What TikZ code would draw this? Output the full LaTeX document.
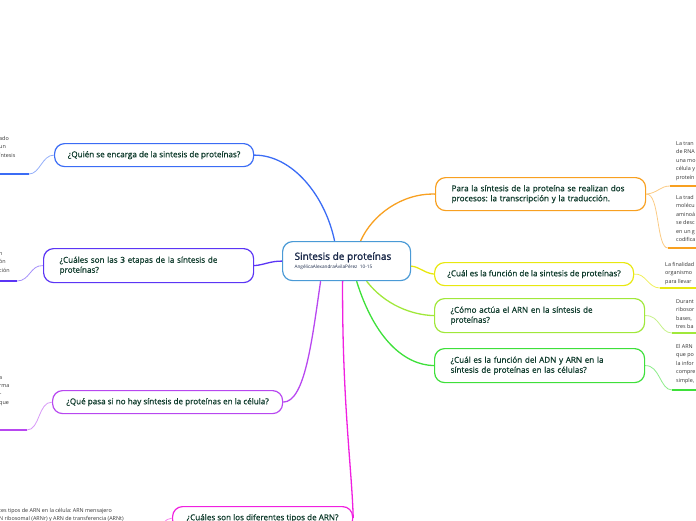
\documentclass[tikz,border=0pt]{standalone}
\usepackage{fontspec}
\setmainfont{Open Sans}
\newfontfamily\medio[FakeBold=0.7]{Open Sans}
\newfontfamily\grueso[FakeBold=1.6]{Open Sans}
\frenchspacing
\definecolor{azul}{HTML}{3B6CF5}
\definecolor{indigo}{HTML}{5B35F5}
\definecolor{lila}{HTML}{B847F0}
\definecolor{fucsia}{HTML}{F020E0}
\definecolor{naranja}{HTML}{F8A020}
\definecolor{amarillo}{HTML}{E8E810}
\definecolor{lima}{HTML}{A0E83A}
\definecolor{verde}{HTML}{3EE03A}
\definecolor{celeste}{HTML}{4A9AD6}
\definecolor{texto}{HTML}{0F3B2C}
\definecolor{marino}{HTML}{1B2A4A}
\definecolor{gris}{HTML}{333333}
\begin{document}
\begin{tikzpicture}[x=1pt,y=-1pt, every node/.style={font=\medio\fontsize{8.1}{10}\selectfont}]
  \tikzstyle{pr}=[draw,line width=1.2pt,rounded corners=10pt,fill=white,text=texto,anchor=north west,inner ysep=0pt]
  \tikzstyle{hoja}=[anchor=north west,inner sep=0pt,align=left,text=gris,font=\fontsize{5.4}{8.5}\selectfont]
  \tikzstyle{rama}=[line width=1.3pt]
  \tikzstyle{sub}=[line width=0.8pt]
  \tikzstyle{raya}=[line width=2pt]
  \clip (0,0) rectangle (696,520);
  \node[pr,draw=celeste,minimum width=128pt,minimum height=39pt,text width=104pt,inner xsep=12pt,align=left] (sint) at (282,241)
    {{\grueso\fontsize{10}{11}\selectfont\color{marino}Sintesis de proteínas}\\[-1pt]{\normalfont\fontsize{4.7}{6}\selectfont\color{marino}AngélicaAlexandraÁvilaPérez 10-15}};
  \node[pr,draw=azul,minimum width=199pt,minimum height=23pt,align=center] (quien) at (54,143) {¿Quién se encarga de la sintesis de proteínas?};
  \node[pr,draw=indigo,minimum height=34pt,text width=178pt,inner xsep=16pt,align=left] (etapas) at (43,248) {¿Cuáles son las 3 etapas de la síntesis de\\proteínas?};
  \node[pr,draw=lila,minimum width=230pt,minimum height=23pt,align=center] (pasa) at (52,390) {¿Qué pasa si no hay síntesis de proteínas en la célula?};
  \node[pr,draw=fucsia,minimum width=180pt,minimum height=23pt,align=center] (tipos) at (172,506) {¿Cuáles son los diferentes tipos de ARN?};
  \node[pr,draw=naranja,minimum height=33pt,text width=178pt,inner xsep=16pt,align=left] (procesos) at (435,177) {Para la síntesis de la proteína se realizan dos\\procesos: la transcripción y la traducción.};
  \node[pr,draw=amarillo,minimum width=199pt,minimum height=23pt,align=center] (funcion) at (434,262) {¿Cuál es la función de la sintesis de proteínas?};
  \node[pr,draw=lima,minimum height=34pt,text width=178pt,inner xsep=16pt,align=left] (arn) at (434,298) {¿Cómo actúa el ARN en la síntesis de\\proteínas?};
  \node[pr,draw=verde,minimum height=34pt,text width=178pt,inner xsep=16pt,align=left] (adnarn) at (434,348) {¿Cuál es la función del ADN y ARN en la\\síntesis de proteínas en las células?};

  \draw[rama,azul] ([xshift=-12pt]sint.north) .. controls (325,195) and (292,155) .. (quien.east);
  \draw[rama,indigo] (sint.west) .. controls (270,261) and (264,265) .. (etapas.east);
  \draw[rama,lila] ([xshift=-26pt]sint.south) .. controls (312,340) and (305,402) .. (pasa.east);
  \draw[rama,fucsia] ([xshift=-4pt]sint.south) .. controls (342,400) and (352,470) .. (tipos.east);
  \draw[rama,naranja] ([xshift=14pt]sint.north) .. controls (372,215) and (402,193) .. (procesos.west);
  \draw[rama,amarillo] ([yshift=-5pt]sint.east) .. controls (420,267) and (424,273) .. (funcion.west);
  \draw[rama,lima] ([xshift=20pt]sint.south) .. controls (385,305) and (412,315) .. (arn.west);
  \draw[rama,verde] ([xshift=10pt]sint.south) .. controls (375,340) and (405,365) .. (adnarn.west);

  \coordinate (quienA) at (29,174);  \coordinate (quienB) at (-2,174);
  \coordinate (etapasA) at (17,281); \coordinate (etapasB) at (-2,281);
  \coordinate (pasaA) at (27,430);   \coordinate (pasaB) at (-2,430);
  \coordinate (tiposA) at (155,527);
  \coordinate (procA) at (670,186);  \coordinate (procB) at (698,186);
  \coordinate (procC) at (668,248);  \coordinate (procD) at (698,248);
  \coordinate (funA) at (660,288);   \coordinate (funB) at (698,288);
  \coordinate (arnA) at (672,333);   \coordinate (arnB) at (698,333);
  \coordinate (adnA) at (672,390);   \coordinate (adnB) at (698,390);

  \draw[sub,azul!55] (quien.west) .. controls (42,155) and (40,174) .. (quienA);
  \draw[raya,azul] (quienA) -- (quienB);
  \draw[sub,indigo!55] (etapas.west) .. controls (30,265) and (30,281) .. (etapasA);
  \draw[raya,indigo] (etapasA) -- (etapasB);
  \draw[sub,lila!55] (pasa.west) .. controls (38,402) and (40,430) .. (pasaA);
  \draw[raya,lila] (pasaA) -- (pasaB);
  \draw[sub,fucsia!55] (tipos.west) .. controls (165,518) and (162,527) .. (tiposA);
  \draw[sub,naranja!55] (procesos.east) .. controls (658,193) and (660,186) .. (procA);
  \draw[raya,naranja] (procA) -- (procB);
  \draw[sub,naranja!55] (procesos.east) .. controls (660,193) and (656,248) .. (procC);
  \draw[raya,naranja] (procC) -- (procD);
  \draw[sub,amarillo!70] (funcion.east) .. controls (646,273) and (648,288) .. (funA);
  \draw[raya,amarillo] (funA) -- (funB);
  \draw[sub,lima!60] (arn.east) .. controls (660,315) and (660,333) .. (arnA);
  \draw[raya,lima] (arnA) -- (arnB);
  \draw[sub,verde!60] (adnarn.east) .. controls (660,365) and (660,390) .. (adnA);
  \draw[raya,verde] (adnA) -- (adnB);

  \node[hoja] (hquien) at (-1,136) {ado\\un\\íntesis};
  \node[hoja] (hetapas) at (-1,252) {n\\ón\\ción};
  \node[hoja] (hpasa) at (-1,376) {a\\rma\\r\\que};
  \node[hoja] (htipos) at (-1,508) {tes tipos de ARN en la célula: ARN mensajero\\N ribosomal (ARNr) y ARN de transferencia (ARNt)};
  \node[hoja] (hproc1) at (676,141) {La tran\\de RNA\\una mo\\célula y\\proteín};
  \node[hoja] (hproc2) at (676,195) {La trad\\molécu\\aminoá\\se desc\\en un g\\codifica};
  \node[hoja] (hfun) at (665,262) {La finalidad\\organismo\\para llevar};
  \node[hoja] (harn) at (676,299) {Durant\\ribosor\\bases,\\tres ba};
  \node[hoja] (hadn) at (676,344) {El ARN\\que po\\la infor\\compre\\simple,};
\end{tikzpicture}
\end{document}
